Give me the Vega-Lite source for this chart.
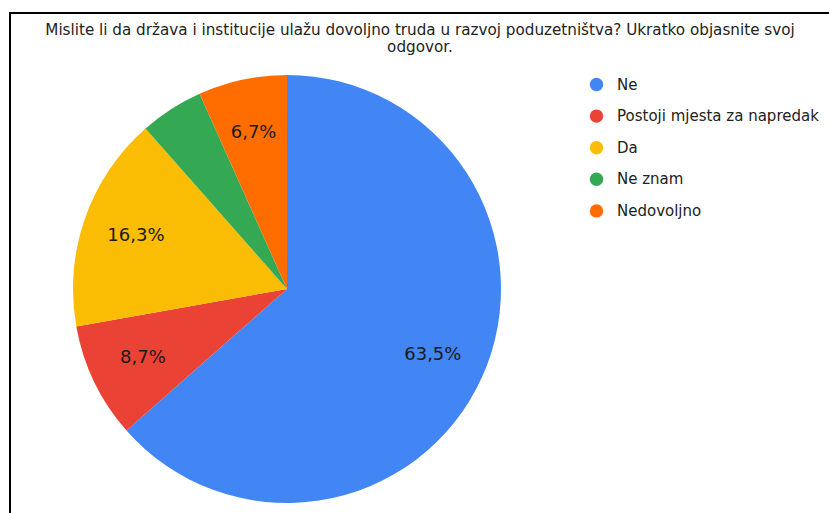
{
  "$schema": "https://vega.github.io/schema/vega-lite/v6.json",
  "width": 830,
  "height": 510,
  "autosize": {"type": "none"},
  "padding": {"left": 10, "top": 13, "right": 0, "bottom": 0},
  "background": "#ffffff",
  "title": {
    "text": ["Mislite li da država i institucije ulažu dovoljno truda u razvoj poduzetništva? Ukratko objasnite svoj", "odgovor."],
    "orient": "top",
    "anchor": "start",
    "frame": "group",
    "offset": -43,
    "dx": 410,
    "align": "center",
    "font": "DejaVu Sans",
    "fontSize": 15.2,
    "fontWeight": "normal",
    "color": "#222222",
    "lineHeight": 17
  },
  "layer": [
    {
      "data": {"values": [{"frame": 1}]},
      "mark": {"type": "rect", "fill": null, "stroke": "#000000", "strokeWidth": 2},
      "encoding": {}
    },
    {
      "data": {
        "values": [
          {"label": "Ne", "value": 63.5, "text": "63,5%", "order": 1},
          {"label": "Postoji mjesta za napredak", "value": 8.7, "text": "8,7%", "order": 2},
          {"label": "Da", "value": 16.3, "text": "16,3%", "order": 3},
          {"label": "Ne znam", "value": 4.8, "text": "", "order": 4},
          {"label": "Nedovoljno", "value": 6.7, "text": "6,7%", "order": 5}
        ]
      },
      "encoding": {
        "theta": {"field": "value", "type": "quantitative", "stack": true},
        "order": {"field": "order", "type": "quantitative"}
      },
      "layer": [
        {
          "mark": {"type": "arc", "outerRadius": 214, "x": 277, "y": 276, "strokeWidth": 0},
          "encoding": {
            "color": {
              "field": "label",
              "type": "nominal",
              "scale": {
                "domain": ["Ne", "Postoji mjesta za napredak", "Da", "Ne znam", "Nedovoljno"],
                "range": ["#4285F4", "#EA4335", "#FBBC04", "#34A853", "#FF6D01"]
              },
              "legend": {
                "title": null,
                "orient": "none",
                "legendX": 579,
                "legendY": 64,
                "padding": 0,
                "symbolType": "circle",
                "symbolSize": 180,
                "symbolStrokeWidth": 0,
                "symbolOpacity": 1,
                "labelFont": "DejaVu Sans",
                "labelFontSize": 15,
                "labelColor": "#222222",
                "labelOffset": 13,
                "rowPadding": 15.6,
                "labelLimit": 300
              }
            }
          }
        },
        {
          "mark": {"type": "text", "radius": 160, "x": 277, "y": 276, "font": "DejaVu Sans", "fontSize": 18, "fill": "#1a1a1a", "baseline": "middle", "align": "center"},
          "encoding": {
            "text": {"field": "text", "type": "nominal"}
          }
        }
      ]
    }
  ]
}
